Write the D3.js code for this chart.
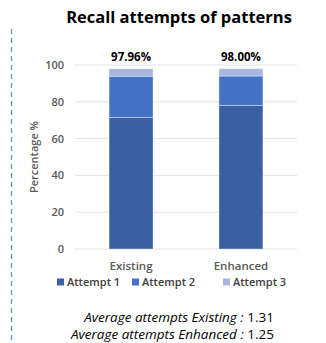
<!DOCTYPE html>
<html>
<head>
<meta charset="utf-8">
<script src="https://cdn.jsdelivr.net/npm/d3@7/dist/d3.min.js"></script>
<style>
  html, body { margin: 0; padding: 0; background: #fff; }
  svg { display: block; }
</style>
</head>
<body>
<svg id="chart" width="326" height="343"></svg>
<script>
// Chart data
const categories = ["Existing", "Enhanced"];
const seriesNames = ["Attempt 1", "Attempt 2", "Attempt 3"];
const attempt1 = [71.43, 78.00];
const attempt2 = [22.45, 16.00];
const attempt3 = [4.08, 4.00];
const totalLabels = ["97.96%", "98.00%"];
const yTicks = [0, 20, 40, 60, 80, 100];
const averages = [
  { label: "Average attempts Existing : ", value: "1.31" },
  { label: "Average attempts Enhanced : ", value: "1.25" }
];
const colors = ["#3A5FA3", "#4472C4", "#A8B7DF"];

const font = "'Open Sans', 'Liberation Sans', sans-serif";
const svg = d3.select("#chart");

const plot = { left: 75, right: 297, top: 65, bottom: 249 };

const x = d3.scaleBand()
  .domain(categories)
  .range([plot.left, plot.right])
  .paddingInner(0.6)
  .paddingOuter(0.31);

const y = d3.scaleLinear()
  .domain([0, 100])
  .range([plot.bottom, plot.top]);

// Left dashed rule
svg.append("line")
  .attr("x1", 11.5).attr("x2", 11.5)
  .attr("y1", 29).attr("y2", 343)
  .attr("stroke", "#5B9BD5")
  .attr("stroke-width", 1.3)
  .attr("stroke-dasharray", "5,4");

// Title
svg.append("text")
  .attr("x", 179).attr("y", 23)
  .attr("text-anchor", "middle")
  .attr("font-family", font)
  .attr("font-weight", "bold")
  .attr("font-size", 16.5)
  .attr("fill", "#000")
  .text("Recall attempts of patterns");

// Gridlines
svg.append("g")
  .selectAll("line")
  .data(yTicks)
  .join("line")
  .attr("x1", plot.left).attr("x2", plot.right)
  .attr("y1", d => y(d)).attr("y2", d => y(d))
  .attr("stroke", "#E3E3E3")
  .attr("stroke-width", 1);

// Y axis labels
const yAxis = svg.append("g")
  .attr("transform", `translate(${plot.left - 11},0)`)
  .call(d3.axisLeft(y).tickValues(yTicks).tickSize(0).tickPadding(0));
yAxis.select(".domain").remove();
yAxis.selectAll("text")
  .attr("font-family", font)
  .attr("font-size", 11)
  .attr("font-weight", 600)
  .attr("fill", "#595959");

// Y axis title
svg.append("text")
  .attr("transform", "translate(38,157) rotate(-90)")
  .attr("text-anchor", "middle")
  .attr("font-family", font)
  .attr("font-size", 11)
  .attr("font-weight", 600)
  .attr("fill", "#595959")
  .text("Percentage %");

// Stacked bars
const rows = categories.map((c, i) => ({
  category: c,
  "Attempt 1": attempt1[i],
  "Attempt 2": attempt2[i],
  "Attempt 3": attempt3[i]
}));
const stacked = d3.stack().keys(seriesNames)(rows);

svg.append("g")
  .selectAll("g")
  .data(stacked)
  .join("g")
  .attr("fill", (d, i) => colors[i])
  .selectAll("rect")
  .data(d => d)
  .join("rect")
  .attr("x", d => x(d.data.category))
  .attr("width", x.bandwidth())
  .attr("y", d => y(d[1]))
  .attr("height", d => y(d[0]) - y(d[1]))
  .attr("stroke", "#ffffff")
  .attr("stroke-opacity", 0.45)
  .attr("stroke-width", 0.8);

// Total labels
svg.append("g")
  .selectAll("text")
  .data(categories)
  .join("text")
  .attr("x", d => x(d) + x.bandwidth() / 2)
  .attr("y", (d, i) => y(attempt1[i] + attempt2[i] + attempt3[i]) - 8)
  .attr("text-anchor", "middle")
  .attr("font-family", font)
  .attr("font-weight", "bold")
  .attr("font-size", 11.5)
  .attr("fill", "#000")
  .text((d, i) => totalLabels[i]);

// X category labels
svg.append("g")
  .selectAll("text")
  .data(categories)
  .join("text")
  .attr("x", d => x(d) + x.bandwidth() / 2)
  .attr("y", 270)
  .attr("text-anchor", "middle")
  .attr("font-family", font)
  .attr("font-size", 11.5)
  .attr("font-weight", 600)
  .attr("fill", "#595959")
  .text(d => d);

// Legend
const legendX = [57, 132, 223];
const legend = svg.append("g")
  .selectAll("g")
  .data(seriesNames)
  .join("g")
  .attr("transform", (d, i) => `translate(${legendX[i]},282)`);
legend.append("rect")
  .attr("x", 0).attr("y", -3.5)
  .attr("width", 7).attr("height", 7)
  .attr("fill", (d, i) => colors[i]);
legend.append("text")
  .attr("x", 10).attr("y", 4)
  .attr("font-family", font)
  .attr("font-size", 11)
  .attr("font-weight", 600)
  .attr("fill", "#404040")
  .text(d => d);

// Average annotations
const notes = svg.append("g")
  .selectAll("text")
  .data(averages)
  .join("text")
  .attr("x", 274)
  .attr("y", (d, i) => 322 + i * 17)
  .attr("text-anchor", "end")
  .attr("font-family", font)
  .attr("font-size", 13.5)
  .attr("fill", "#000");
notes.append("tspan").attr("font-style", "italic").text(d => d.label);
notes.append("tspan").text(d => d.value);
</script>
</body>
</html>
